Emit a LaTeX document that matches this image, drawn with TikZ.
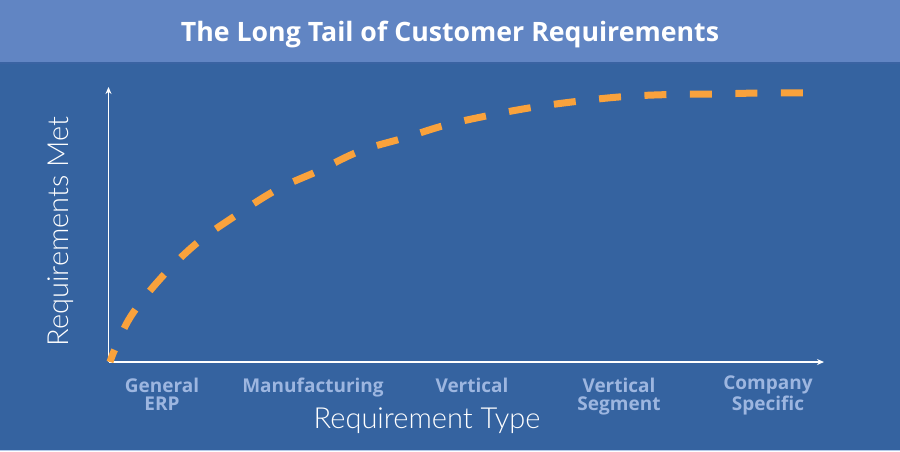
\documentclass[tikz,border=0pt]{standalone}
\usepackage{fontspec}
\setmainfont{Open Sans}
\newfontfamily\latolight{Lato Light}
\usetikzlibrary{arrows.meta}
\definecolor{bandblue}{HTML}{6185C3}
\definecolor{bgblue}{HTML}{3563A0}
\definecolor{edgeblue}{HTML}{3A63A2}
\definecolor{curveorange}{HTML}{F9A23C}
\definecolor{catblue}{HTML}{9DB6E0}
\definecolor{bottomline}{HTML}{B5CBEA}
\tikzset{
  cat/.style={font=\fontsize{19}{18}\selectfont\bfseries, text=catblue, align=center, inner sep=0pt, anchor=base},
  axislabel/.style={font=\latolight\fontsize{29}{29}\selectfont, text=white, inner sep=0pt},
  axisline/.style={draw=white, line width=1.4pt, -{Stealth[length=7pt,width=6pt]}},
  tail/.style={draw=curveorange, line width=7pt, dash pattern=on 22pt off 23.5pt, dash phase=9pt}
}
\begin{document}
\begin{tikzpicture}[x=1pt,y=-1pt]
\useasboundingbox (0,0) rectangle (900,451);
\fill[bgblue] (0,0) rectangle (900,451);
\fill[bandblue] (0,0) rectangle (900,62);
\fill[edgeblue] (0,62) rectangle (900,64);
\fill[bottomline] (0,449.5) rectangle (900,451);
\node[font=\fontsize{26.7}{27}\selectfont\bfseries, text=white, inner sep=0pt, anchor=base] (title) at (450,41) {The Long Tail of Customer Requirements};
\coordinate (origin) at (108.5,362);
\coordinate (ytop) at (108.5,87);
\coordinate (xend) at (824,362);
\draw[axisline] (origin) -- (ytop);
\draw[axisline] (origin) -- (xend);
\draw[tail] plot[smooth, tension=0.6] coordinates {(110,362) (115,349) (131,316) (161,278) (197,243) (238,214) (278,189) (318,171) (360,151) (404,138) (446,125) (491,115) (535,107) (580,101) (625,96.5) (670,94.5) (715,94) (760,93) (810,93)};
\node[axislabel, rotate=90, anchor=base] (ylab) at (68,231.5) {Requirements Met};
\node[axislabel, anchor=base] (xlab) at (427,428) {Requirement Type};
\node[cat] (c1) at (162,410) {General\\ERP};
\node[cat] (c2) at (313,392) {Manufacturing};
\node[cat] (c3) at (472,392) {Vertical};
\node[cat] (c4) at (619,410) {Vertical\\Segment};
\node[cat] (c5) at (768,410) {Company\\Specific};
\end{tikzpicture}
\end{document}
